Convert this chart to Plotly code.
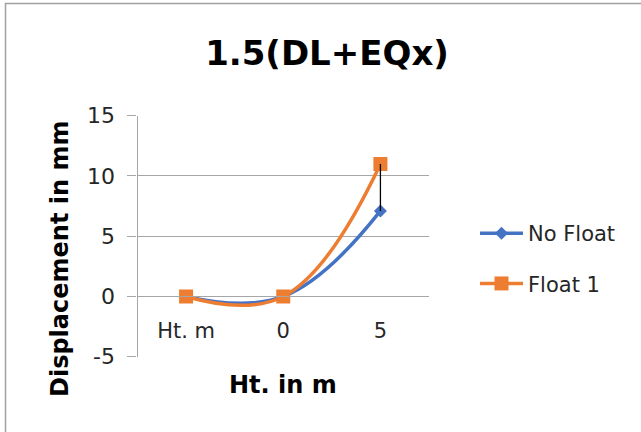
import plotly.graph_objects as go

# Data
categories = ["Ht. m", "0", "5"]
no_float = [0, 0, 7.1]
float_1 = [0, 0, 11]
y_ticks = [-5, 0, 5, 10, 15]

W, H = 641, 432
FONT = "DejaVu Sans"
GRID = "#a6a6a6"


def px(x):
    return x / W


def py(y):
    return 1 - y / H


fig = go.Figure()

fig.add_trace(go.Scatter(
    x=categories, y=no_float, name="No Float",
    mode="lines+markers",
    line=dict(color="#4472C4", width=3.5, shape="spline", smoothing=1.2),
    marker=dict(symbol="diamond", size=10, color="#4472C4"),
    legendgroup="a", hoverinfo="skip",
))
fig.add_trace(go.Scatter(
    x=categories, y=float_1, name="Float 1",
    mode="lines+markers",
    line=dict(color="#ED7D31", width=3.5, shape="spline", smoothing=1.2),
    marker=dict(symbol="square", size=14, color="#ED7D31"),
    legendgroup="b", hoverinfo="skip",
))

# High-low lines joining the two series at each category
hl_x, hl_y = [], []
for c, a, b in zip(categories, no_float, float_1):
    if a != b:
        hl_x += [c, c, None]
        hl_y += [min(a, b), max(a, b), None]
fig.add_trace(go.Scatter(
    x=hl_x, y=hl_y, mode="lines",
    line=dict(color="black", width=1.3),
    showlegend=False, hoverinfo="skip",
))

Y_LO, Y_HI = y_ticks[0], y_ticks[-1]
PLOT_TOP, PLOT_BOTTOM = 115.7, 356.7
y0_paper = py(PLOT_BOTTOM) + (py(PLOT_TOP) - py(PLOT_BOTTOM)) * (0 - Y_LO) / (Y_HI - Y_LO)

fig.update_layout(
    width=W, height=H,
    margin=dict(l=0, r=0, t=0, b=0, autoexpand=False),
    paper_bgcolor="white", plot_bgcolor="white",
    font=dict(family=FONT, color="#262626"),
    title=dict(
        text="1.5(DL+EQx)", x=px(327), xanchor="center",
        y=py(53), yanchor="middle",
        font=dict(family=FONT, size=34, weight="bold", color="black"),
    ),
    xaxis=dict(
        type="category", categoryorder="array", categoryarray=categories,
        range=[-0.5, 2.5],
        domain=[px(137.5), px(429)],
        anchor="free", position=y0_paper, automargin=False,
        showgrid=False, zeroline=False,
        showline=True, linecolor=GRID, linewidth=1.3,
        ticks="", ticklabelstandoff=15,
        tickfont=dict(family=FONT, size=21, color="#262626"),
    ),
    yaxis=dict(
        range=[Y_LO, Y_HI], tickvals=y_ticks, ticktext=[str(v) for v in y_ticks],
        domain=[py(PLOT_BOTTOM), py(PLOT_TOP)], automargin=False,
        showgrid=True, gridcolor=GRID, gridwidth=1.3,
        zeroline=False,
        showline=True, linecolor=GRID, linewidth=1.3,
        ticks="outside", ticklen=9, tickcolor=GRID, tickwidth=1.3,
        ticklabelstandoff=8,
        tickfont=dict(family=FONT, size=22, color="#262626"),
    ),
    legend=dict(
        x=px(475), xanchor="left", y=py(213), yanchor="top",
        traceorder="grouped", tracegroupgap=20, itemwidth=43,
        font=dict(family=FONT, size=21, color="#262626"),
        bgcolor="rgba(0,0,0,0)",
    ),
    annotations=[
        dict(text="Ht. in m", x=px(283.3), y=py(385), xref="paper", yref="paper",
             xanchor="center", yanchor="middle", showarrow=False,
             font=dict(family=FONT, size=24, weight="bold", color="black")),
        dict(text="Displacement in mm", x=px(60), y=py(259), xref="paper", yref="paper",
             xanchor="center", yanchor="middle", showarrow=False, textangle=-90,
             font=dict(family=FONT, size=24, weight="bold", color="black")),
    ],
    shapes=[
        dict(type="rect", xref="paper", yref="paper",
             x0=px(5.5), x1=1.2, y0=-0.2, y1=py(3.5),
             line=dict(color="#a0a0a0", width=1.5), fillcolor="rgba(0,0,0,0)",
             layer="below"),
    ],
)

fig.write_html("out.html")
